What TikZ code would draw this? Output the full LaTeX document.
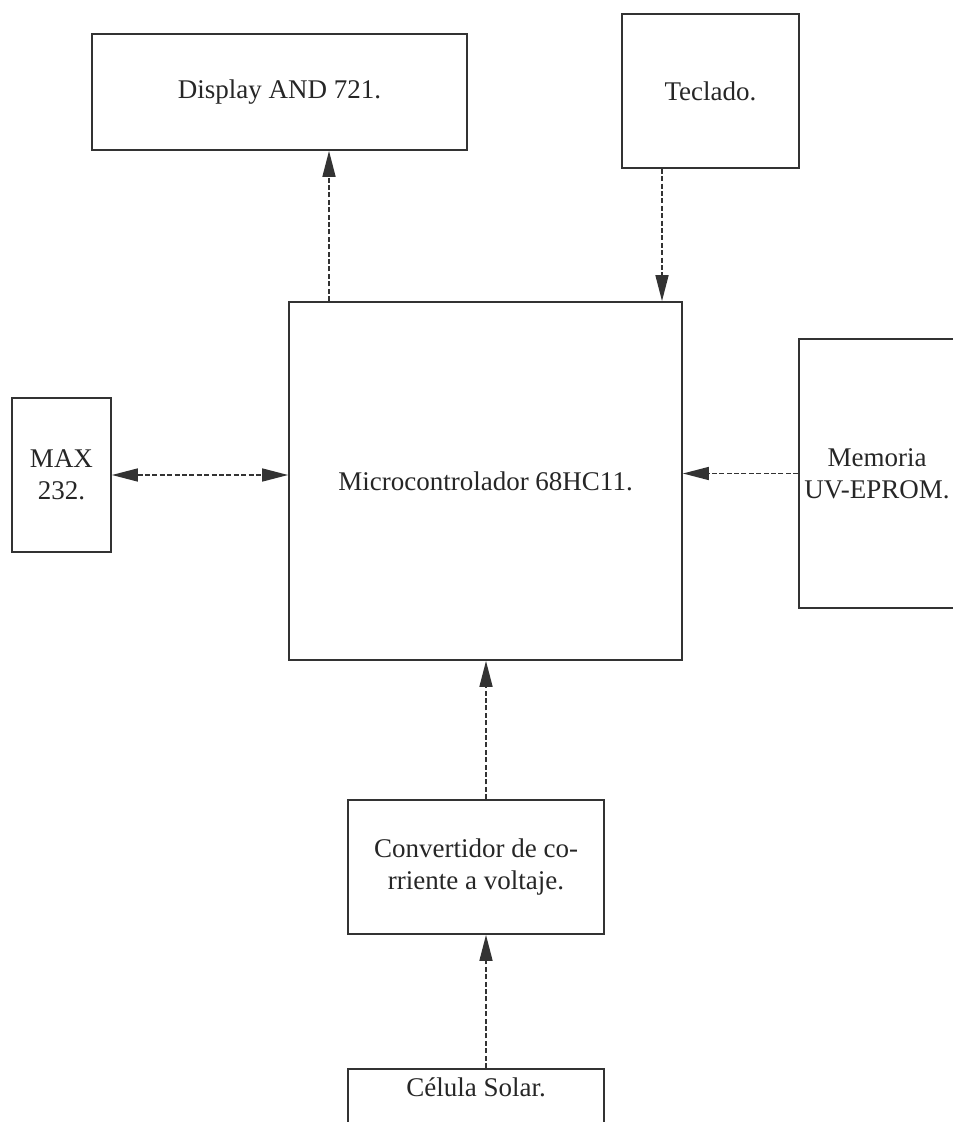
\documentclass[tikz,border=0pt]{standalone}
\usepackage{fontspec}
\setmainfont{Liberation Serif}
\usetikzlibrary{arrows.meta}
\begin{document}
\begin{tikzpicture}[x=0.5pt,y=-0.5pt,
    blk/.style={draw=black!80, line width=0.9pt, text=black!85,
      font=\fontsize{13.5}{16}\selectfont, align=center, inner sep=0pt},
    link/.style={draw=black!80, line width=0.8pt, dash pattern=on 2.5pt off 1.2pt,
      -{Triangle[length=13pt,width=6.5pt]}}]
  \useasboundingbox (0,0) rectangle (952,1122);
  \draw
    (279.5,92) node[blk, minimum width=187.5pt, minimum height=58pt] (display){Display AND 721.}
    (710.5,91) node[blk, minimum width=88.5pt, minimum height=77pt] (teclado){Teclado.}
    (485.5,481) node[blk, minimum width=196.5pt, minimum height=179pt] (micro){Microcontrolador 68HC11.}
    (61.5,475) node[blk, minimum width=49.5pt, minimum height=77pt] (max){MAX\\232.}
    (877,473.5) node[blk, minimum width=78pt, minimum height=134.5pt] (memoria){Memoria\\UV-EPROM.}
    (476,867) node[blk, minimum width=128pt, minimum height=67pt] (conv){Convertidor de co-\\rriente a voltaje.}
    (476,1068) node[blk, anchor=north, minimum width=128pt, inner ysep=4pt,
      text height=10pt, text depth=50pt] (solar){Célula Solar.};
  \coordinate (c1) at (329,0);
  \coordinate (c2) at (662,0);
  \coordinate (c3) at (486,0);
  \begin{scope}[link]
    \draw (micro.north -| c1) to (display.south -| c1);
    \draw (teclado.south -| c2) to (micro.north -| c2);
    \draw[{Triangle[length=13pt,width=6.5pt]}-{Triangle[length=13pt,width=6.5pt]}]
      (max.east) to (micro.west |- max.east);
    \draw (memoria.west) to (micro.east |- memoria.west);
    \draw (conv.north -| c3) to (micro.south -| c3);
    \draw (solar.north -| c3) to (conv.south -| c3);
  \end{scope}
\end{tikzpicture}
\end{document}
